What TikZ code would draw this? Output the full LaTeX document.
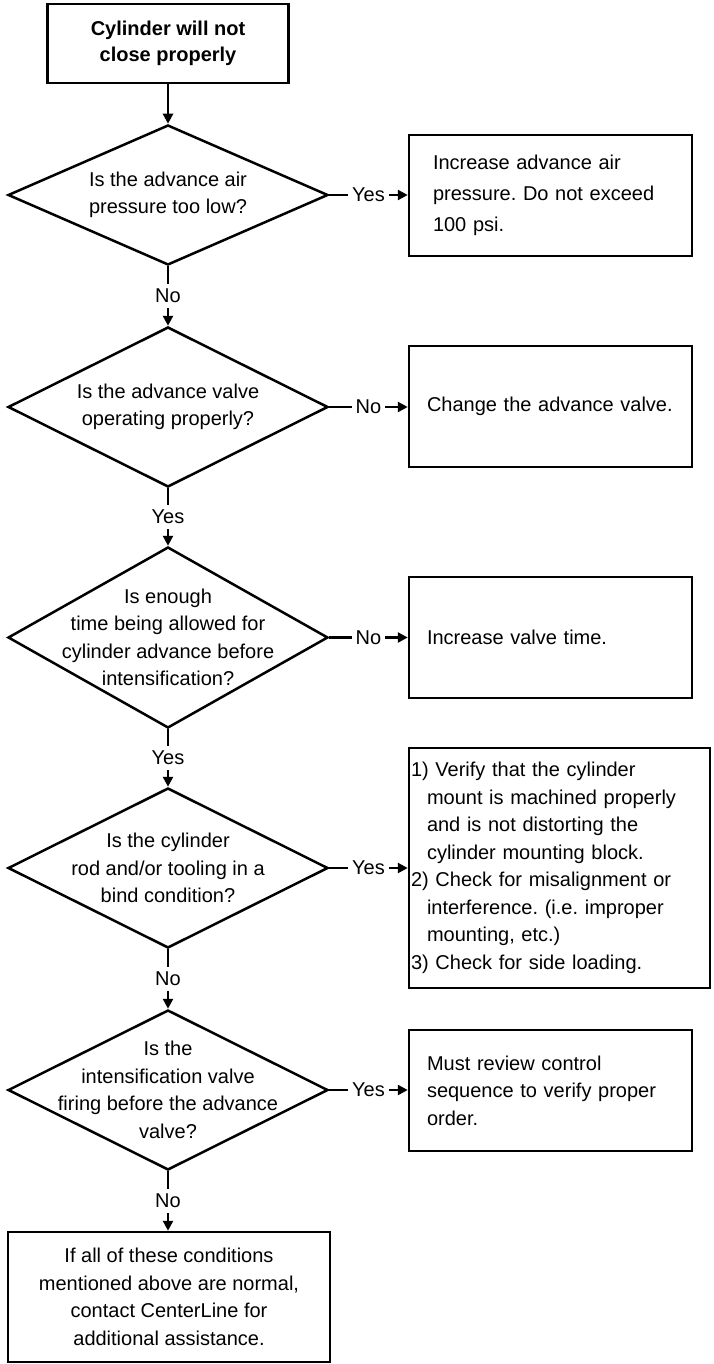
\documentclass[tikz,border=0pt]{standalone}
\usepackage{fontspec}
\setmainfont{Liberation Sans}
\usetikzlibrary{shapes.geometric,arrows.meta}
\frenchspacing
\begin{document}
\begin{tikzpicture}[x=1pt,y=-1pt,
  every node/.style={font=\fontsize{20}{27.5}\selectfont},
  box/.style={draw, line width=2.5pt, rectangle, inner sep=0pt, align=left},
  dia/.style={draw, line width=2.5pt, diamond, inner sep=0pt, minimum width=320pt},
  qtext/.style={align=center, inner sep=0pt},
  lbl/.style={fill=white, inner xsep=4pt, inner ysep=5pt},
  flow/.style={line width=2.5pt, -{Triangle[length=10pt,width=10pt]}}
]
\useasboundingbox (0,0) rectangle (713,1364);

% start
\node[box, align=center, minimum width=241pt, minimum height=79pt,
      font=\fontsize{20}{26}\selectfont\bfseries] (start) at (168,43.5)
      {Cylinder will not\\close properly};

% decisions
\node[dia, minimum height=140pt] (q1) at (168,195) {};
\node[qtext] (q1t) at (q1.center) {Is the advance air\\pressure too low?};
\node[dia, minimum height=160pt] (q2) at (168,407) {};
\node[qtext] (q2t) at (q2.center) {Is the advance valve\\operating properly?};
\node[dia, minimum height=181pt] (q3) at (168,637.5) {};
\node[qtext] (q3t) at (q3.center) {Is enough\\time being allowed for\\cylinder advance before\\intensification?};
\node[dia, minimum height=160pt] (q4) at (168,868) {};
\node[qtext] (q4t) at (q4.center) {Is the cylinder\\rod and/or tooling in a\\bind condition?};
\node[dia, minimum height=160pt] (q5) at (168,1090) {};
\node[qtext] (q5t) at (q5.center) {Is the\\intensification valve\\firing before the advance\\valve?};

% actions
\node[box, minimum width=283pt, minimum height=121pt, text width=235pt,
      font=\fontsize{20}{31}\selectfont] (a1) at (550.5,195.5)
      {Increase advance air\\pressure. Do not exceed\\100 psi.};
\node[box, minimum width=283pt, minimum height=121pt, text width=247pt] (a2) at (550.5,406.5)
      {Change the advance valve.};
\node[box, minimum width=283pt, minimum height=121pt, text width=247pt] (a3) at (550.5,637.5)
      {Increase valve time.};
\node[box, minimum width=301pt, minimum height=240pt, text width=297pt] (a4) at (559.5,868)
      {1) Verify that the cylinder\\
       \hspace*{16pt}mount is machined properly\\
       \hspace*{16pt}and is not distorting the\\
       \hspace*{16pt}cylinder mounting block.\\
       2) Check for misalignment or\\
       \hspace*{16pt}interference. (i.e. improper\\
       \hspace*{16pt}mounting, etc.)\\
       3) Check for side loading.};
\node[box, minimum width=283pt, minimum height=121pt, text width=247pt] (a5) at (550.5,1090.5)
      {Must review control\\sequence to verify proper\\order.};

% final
\node[box, align=center, minimum width=322pt, minimum height=130pt] (fin) at (169,1297)
      {If all of these conditions\\mentioned above are normal,\\contact CenterLine for\\additional assistance.};

% main column
\draw[flow] (start.south) -- (q1.north);
\draw[flow] (q1.south) -- node[lbl] {No} (q2.north);
\draw[flow] (q2.south) -- node[lbl] {Yes} (q3.north);
\draw[flow] (q3.south) -- node[lbl] {Yes} (q4.north);
\draw[flow] (q4.south) -- node[lbl] {No} (q5.north);
\draw[flow] (q5.south) -- node[lbl] {No} (q5.south |- fin.north);

% side branches
\draw[flow] (q1.east) -- node[lbl] {Yes} (q1.east -| a1.west);
\draw[flow] (q2.east) -- node[lbl] {No} (q2.east -| a2.west);
\draw[flow] (q3.east) -- node[lbl] {No} (q3.east -| a3.west);
\draw[flow] (q4.east) -- node[lbl] {Yes} (q4.east -| a4.west);
\draw[flow] (q5.east) -- node[lbl] {Yes} (q5.east -| a5.west);
\end{tikzpicture}
\end{document}
